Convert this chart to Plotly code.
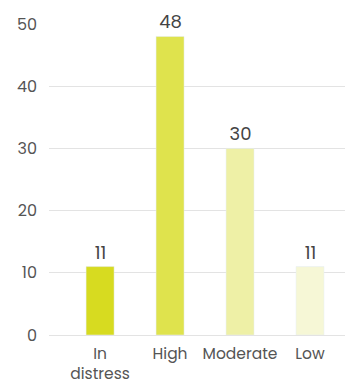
import plotly.graph_objects as go

categories = ["In<br>distress", "High", "Moderate", "Low"]
values = [11, 48, 30, 11]
colors = ["#D7DB20", "#DFE34D", "#EEF0A6", "#F6F7D6"]
y_ticks = [0, 10, 20, 30, 40, 50]

FONT = "Poppins, Inter, sans-serif"

fig = go.Figure(go.Bar(
    x=categories, y=values, marker_color=colors, width=0.4,
    hoverinfo="skip",
))

for c, v in zip(categories, values):
    fig.add_annotation(
        x=c, y=v, text=str(v), showarrow=False, yanchor="middle", yshift=15,
        font=dict(family=FONT, size=18, color="#444444"),
        bgcolor="white", width=43, height=18,
    )

fig.update_layout(
    width=345, height=383,
    margin=dict(l=49, r=0, t=24, b=48),
    plot_bgcolor="white", paper_bgcolor="white",
    showlegend=False,
    font=dict(family=FONT, size=16, color="#555555"),
    bargap=0.6,
)
fig.update_xaxes(
    range=[-0.73, 3.5], showgrid=False, showline=False, zeroline=False,
    ticks="", ticklabelstandoff=7, automargin=False,
    tickfont=dict(family=FONT, size=15.5, color="#555555"),
)
fig.update_yaxes(
    range=[0, 50], tickvals=y_ticks, showgrid=True, gridcolor="#E3E3E3",
    gridwidth=1, zeroline=True, zerolinecolor="#E3E3E3", zerolinewidth=1,
    showline=False, ticks="", ticklabelstandoff=11, automargin=False,
    tickfont=dict(family=FONT, size=16, color="#555555"),
)

fig.write_html("out.html")
